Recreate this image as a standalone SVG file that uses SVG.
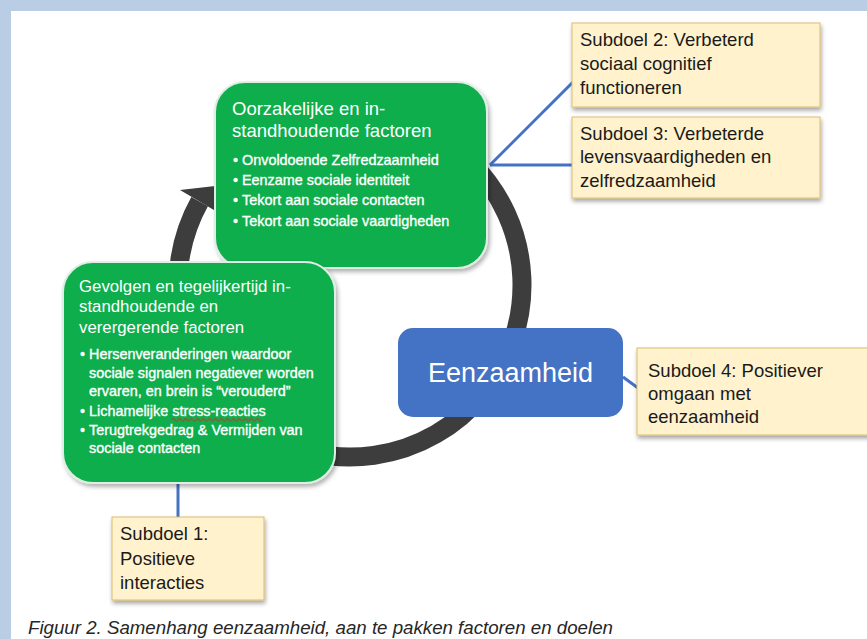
<svg xmlns="http://www.w3.org/2000/svg" width="867" height="639" viewBox="0 0 867 639">
  <defs>
    <filter id="sh" x="-10%" y="-10%" width="130%" height="130%">
      <feDropShadow dx="2" dy="3" stdDeviation="2" flood-color="#000" flood-opacity="0.3"/>
    </filter>
    <filter id="shs" x="-10%" y="-10%" width="130%" height="130%">
      <feDropShadow dx="1" dy="3" stdDeviation="2" flood-color="#000" flood-opacity="0.35"/>
    </filter>
  </defs>
  <style>
    text { font-family: "Liberation Sans", Arial, sans-serif; }
    .green { fill: #0fae4b; stroke: #dfeee4; stroke-width: 2; filter: url(#sh); }
    .yel { fill: #fff2cc; stroke: #dcbc6c; stroke-width: 1; filter: url(#shs); }
    .hd1 { font-size: 18.5px; fill: #ffffff; }
    .hd2 { font-size: 16.8px; fill: #ffffff; }
    .bul { font-size: 14.4px; fill: #ffffff; stroke: #ffffff; stroke-width: 0.35px; }
    .sub { font-size: 18.5px; fill: #1a1a1a; }
    .conn { stroke: #4472c4; stroke-width: 3; fill: none; }
  </style>

  <!-- background frame -->
  <rect x="0" y="0" width="867" height="639" fill="#b9cde4"/>
  <rect x="11" y="11" width="856" height="628" fill="#ffffff"/>

  <!-- cycle ring -->
  <g id="cycle">
    <path d="M 471.6 163.4 A 172 172 0 1 1 199.6 201.6" fill="none" stroke="#3d3d3d" stroke-width="19"/>
    <polygon points="180,190 224,185 219,213" fill="#3d3d3d"/>
  </g>

  <!-- connectors -->
  <g id="connectors">
    <line class="conn" x1="490" y1="165" x2="573" y2="82"/>
    <line class="conn" x1="490" y1="165" x2="573" y2="165"/>
    <line class="conn" x1="623" y1="377" x2="638" y2="388"/>
    <line class="conn" x1="178" y1="483" x2="178" y2="518"/>
  </g>

  <g id="node-oorzakelijk">
    <rect class="green" x="215" y="82" width="272" height="186" rx="30"/>
    <text class="hd1" x="232" y="114.5">Oorzakelijke en in-</text>
    <text class="hd1" x="232" y="136.5">standhoudende factoren</text>
    <text class="bul" x="233" y="164.5">•<tspan x="242">Onvoldoende Zelfredzaamheid</tspan></text>
    <text class="bul" x="233" y="185">•<tspan x="242">Eenzame sociale identiteit</tspan></text>
    <text class="bul" x="233" y="205">•<tspan x="242">Tekort aan sociale contacten</tspan></text>
    <text class="bul" x="233" y="225.5">•<tspan x="242">Tekort aan sociale vaardigheden</tspan></text>
  </g>

  <g id="node-gevolgen">
    <rect class="green" x="63" y="262" width="272" height="221" rx="30"/>
    <text class="hd2" x="79" y="291.5">Gevolgen en tegelijkertijd in-</text>
    <text class="hd2" x="79" y="312">standhoudende en</text>
    <text class="hd2" x="79" y="332.5">verergerende factoren</text>
    <text class="bul" x="80" y="359">•<tspan x="89">Hersenveranderingen waardoor</tspan></text>
    <text class="bul" x="89" y="377.5">sociale signalen negatiever worden</text>
    <text class="bul" x="89" y="396">ervaren, en brein is “verouderd”</text>
    <text class="bul" x="80" y="415.5">•<tspan x="89">Lichamelijke stress-reacties</tspan></text>
    <path d="M 172 420 q 1.5 -2.4 3 0 t 3 0 t 3 0 t 3 0 t 3 0 t 3 0 t 3 0 t 3 0 t 3 0 t 3 0 t 3 0 t 3 0 t 3 0 t 3 0 t 3 0 t 3 0 t 3 0 t 3 0 t 3 0 t 3 0 t 3 0 t 3 0 t 3 0 t 3 0 t 3 0 t 3 0 t 3 0 t 3 0 t 3 0 t 3 0" fill="none" stroke="#e0322a" stroke-width="1.2"/>
    <text class="bul" x="80" y="434.5">•<tspan x="89">Terugtrekgedrag &amp; Vermijden van</tspan></text>
    <text class="bul" x="89" y="452.5">sociale contacten</text>
  </g>

  <g id="node-eenzaamheid">
    <rect x="398" y="328" width="225" height="89" rx="15" fill="#4472c4"/>
    <text x="510.5" y="381.5" text-anchor="middle" font-size="27" fill="#ffffff">Eenzaamheid</text>
  </g>

  <g id="node-subdoel2">
    <rect class="yel" x="572" y="23" width="248" height="84"/>
    <text class="sub" x="580" y="45.5">Subdoel 2: Verbeterd</text>
    <text class="sub" x="580" y="70">sociaal cognitief</text>
    <text class="sub" x="580" y="94">functioneren</text>
  </g>

  <g id="node-subdoel3">
    <rect class="yel" x="572" y="117" width="248" height="81"/>
    <text class="sub" x="580" y="139.5">Subdoel 3: Verbeterde</text>
    <text class="sub" x="580" y="163">levensvaardigheden en</text>
    <text class="sub" x="580" y="187">zelfredzaamheid</text>
  </g>

  <g id="node-subdoel4">
    <rect class="yel" x="637" y="348" width="250" height="87"/>
    <text class="sub" x="648" y="377">Subdoel 4: Positiever</text>
    <text class="sub" x="648" y="400">omgaan met</text>
    <text class="sub" x="648" y="422.5">eenzaamheid</text>
  </g>

  <g id="node-subdoel1">
    <rect class="yel" x="112" y="517" width="152" height="83"/>
    <text class="sub" x="120" y="540">Subdoel 1:</text>
    <text class="sub" x="120" y="564.5">Positieve</text>
    <text class="sub" x="120" y="588.5">interacties</text>
  </g>

  <text x="28" y="634" font-size="18.7" font-style="italic" fill="#262626">Figuur 2. Samenhang eenzaamheid, aan te pakken factoren en doelen</text>
</svg>
